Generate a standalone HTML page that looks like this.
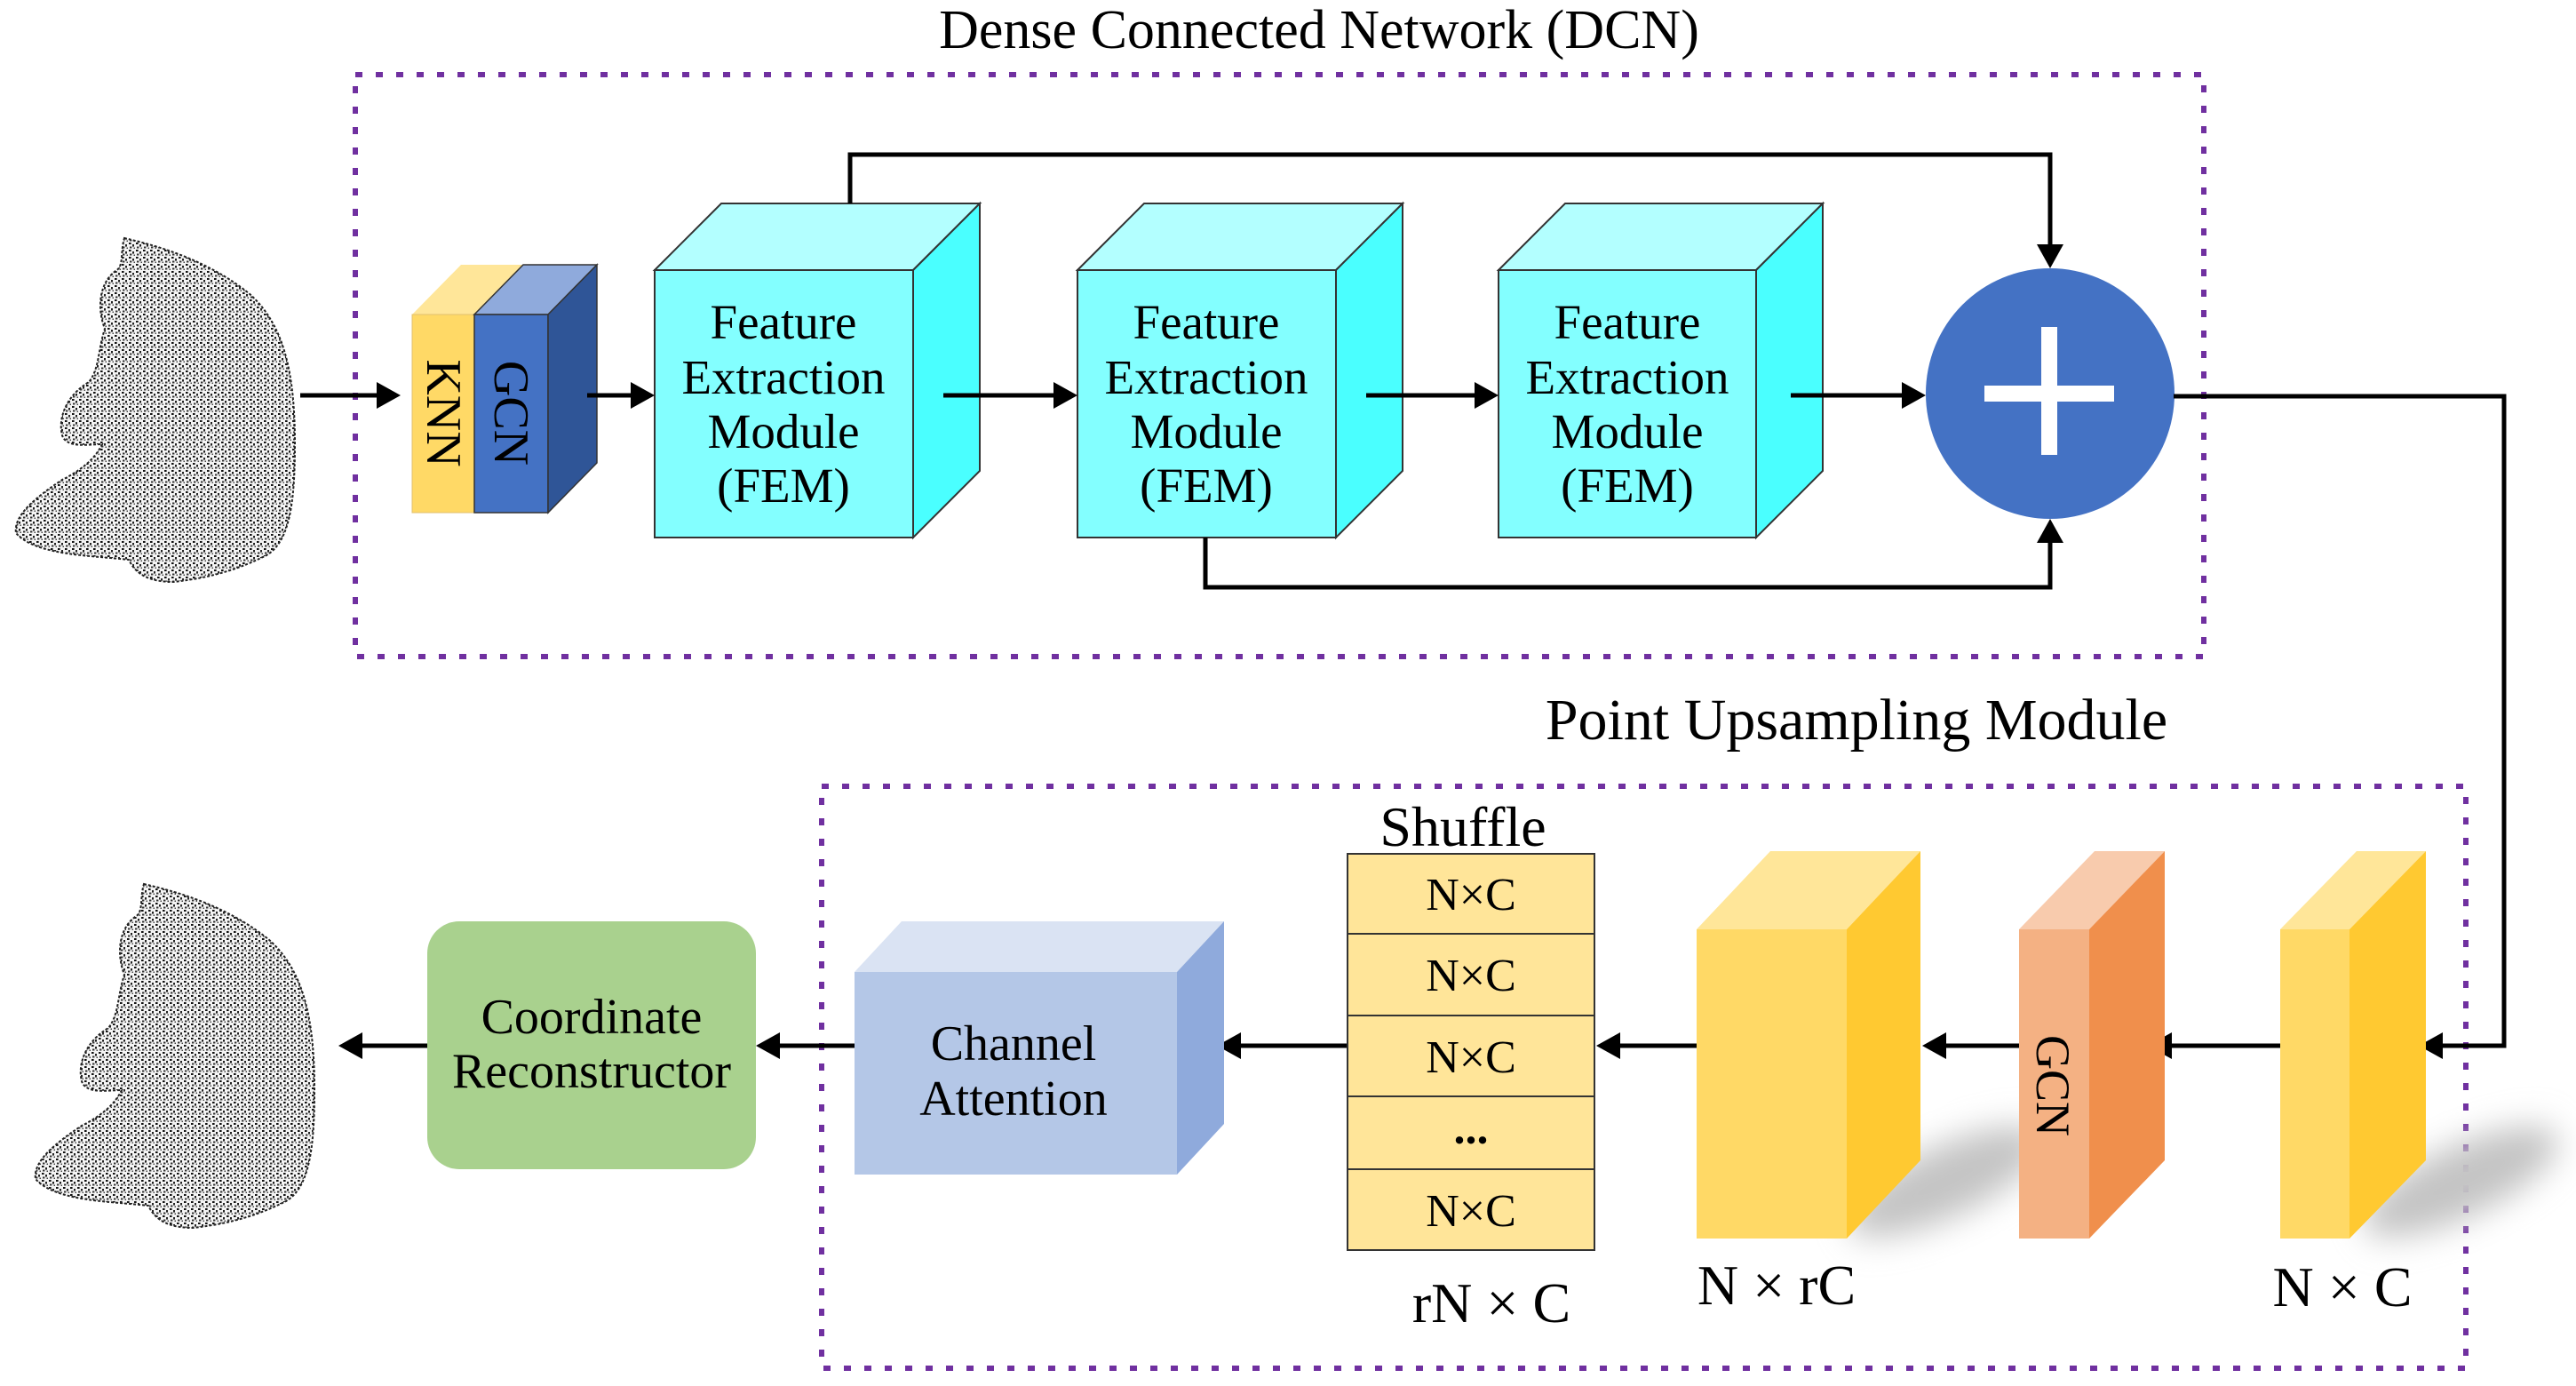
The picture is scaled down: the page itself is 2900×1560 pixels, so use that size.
<!DOCTYPE html>
<html><head><meta charset="utf-8"><style>
html,body{margin:0;padding:0;background:#fff;}
svg{display:block;}
text{font-family:"Liberation Serif",serif;fill:#000;}
</style></head><body>
<svg width="2900" height="1560" viewBox="0 0 2900 1560" xmlns="http://www.w3.org/2000/svg">
<defs>
<pattern id="dots" width="8" height="8" patternUnits="userSpaceOnUse">
<rect width="8" height="8" fill="#f4f4f4"/>
<rect x="1" y="1" width="2.6" height="2" fill="#111"/>
<rect x="5" y="3" width="2" height="2.6" fill="#222"/>
<rect x="2" y="5.5" width="2.4" height="2" fill="#333"/>
<rect x="6.5" y="6.5" width="1.5" height="1.5" fill="#444"/>
</pattern>
<filter id="blur" x="-50%" y="-50%" width="200%" height="200%"><feGaussianBlur stdDeviation="18"/></filter>
<path id="bear" d="M140,268 C170,275 230,290 280,330 C320,365 332,420 332,500 C332,570 325,610 300,625 C270,640 240,650 195,655 C160,655 150,640 145,630 C100,625 40,625 18,600 C15,580 40,560 70,540 C100,525 110,510 115,500 C100,500 75,505 70,490 C65,470 75,445 100,430 C112,415 110,395 118,370 C110,350 110,320 130,305 C140,300 135,285 140,268 Z"/>
</defs>

<text x="1485" y="54" font-size="62" text-anchor="middle">Dense Connected Network (DCN)</text>
<text x="2090" y="832" font-size="66" text-anchor="middle">Point Upsampling Module</text>

<rect x="400" y="84" width="2081" height="655" fill="none" stroke="#7030a0" stroke-width="6" stroke-dasharray="8 15"/>
<rect x="925" y="885" width="1851" height="655" fill="none" stroke="#7030a0" stroke-width="6" stroke-dasharray="8 15"/>

<use href="#bear" fill="url(#dots)" stroke="#222" stroke-width="2" stroke-dasharray="3 2"/>
<use href="#bear" transform="translate(22,727)" fill="url(#dots)" stroke="#222" stroke-width="2" stroke-dasharray="3 2"/>

<polygon points="464,354 534,354 589,298 519,298" fill="#ffe699"/>
<rect x="464" y="354" width="70" height="223" fill="#ffd966" stroke="#e0c070" stroke-width="1"/>
<polygon points="534,354 617,354 672,298 589,298" fill="#8faadc" stroke="#333" stroke-width="1.5"/>
<rect x="534" y="354" width="83" height="223" fill="#4472c4" stroke="#333" stroke-width="1.5"/>
<polygon points="617,354 672,298 672,521 617,577" fill="#2f5597" stroke="#333" stroke-width="1.5"/>
<text transform="translate(481,465) rotate(90)" font-size="56" text-anchor="middle">KNN</text>
<text transform="translate(557,465) rotate(90)" font-size="56" text-anchor="middle">GCN</text>

<g stroke="#333" stroke-width="2">
<polygon points="737,304 812,229 1103,229 1028,304" fill="#b3ffff"/>
<polygon points="1028,304 1103,229 1103,530 1028,605" fill="#4affff"/>
<rect x="737" y="304" width="291" height="301" fill="#83ffff"/>
<polygon points="1213,304 1288,229 1579,229 1504,304" fill="#b3ffff"/>
<polygon points="1504,304 1579,229 1579,530 1504,605" fill="#4affff"/>
<rect x="1213" y="304" width="291" height="301" fill="#83ffff"/>
<polygon points="1687,304 1762,229 2052,229 1977,304" fill="#b3ffff"/>
<polygon points="1977,304 2052,229 2052,530 1977,605" fill="#4affff"/>
<rect x="1687" y="304" width="290" height="301" fill="#83ffff"/>
</g>
<g font-size="55" text-anchor="middle">
<text x="882" y="381">Feature</text><text x="882" y="443">Extraction</text><text x="882" y="504">Module</text><text x="882" y="565">(FEM)</text>
<text x="1358" y="381">Feature</text><text x="1358" y="443">Extraction</text><text x="1358" y="504">Module</text><text x="1358" y="565">(FEM)</text>
<text x="1832" y="381">Feature</text><text x="1832" y="443">Extraction</text><text x="1832" y="504">Module</text><text x="1832" y="565">(FEM)</text>
</g>

<ellipse cx="2308" cy="443" rx="140" ry="141" fill="#4472c4"/>
<rect x="2234" y="434" width="146" height="18" fill="#fff"/>
<rect x="2298" y="368" width="18" height="144" fill="#fff"/>

<g stroke="#000" stroke-width="5" fill="none">
<line x1="338" y1="445" x2="430" y2="445"/>
<line x1="661" y1="445" x2="716" y2="445"/>
<line x1="1062" y1="445" x2="1192" y2="445"/>
<line x1="1538" y1="445" x2="1666" y2="445"/>
<line x1="2016" y1="445" x2="2147" y2="445"/>
<polyline points="957,229 957,174 2308,174 2308,282"/>
<polyline points="1357,605 1357,661 2308,661 2308,604"/>
<polyline points="2447,446 2819,446 2819,1177 2745,1177"/>
<line x1="2567" y1="1177" x2="2440" y2="1177"/>
<line x1="2273" y1="1177" x2="2186" y2="1177"/>
<line x1="1910" y1="1177" x2="1819" y2="1177"/>
<line x1="1517" y1="1177" x2="1392" y2="1177"/>
<line x1="962" y1="1177" x2="873" y2="1177"/>
<line x1="481" y1="1177" x2="403" y2="1177"/>
</g>
<g fill="#000">
<polygon points="451,445 424,430 424,460"/>
<polygon points="737,445 710,430 710,460"/>
<polygon points="1213,445 1186,430 1186,460"/>
<polygon points="1687,445 1660,430 1660,460"/>
<polygon points="2168,445 2141,430 2141,460"/>
<polygon points="2308,302 2293,275 2323,275"/>
<polygon points="2308,584 2293,611 2323,611"/>
<polygon points="2723,1177 2750,1162 2750,1192"/>
<polygon points="2418,1177 2445,1162 2445,1192"/>
<polygon points="2164,1177 2191,1162 2191,1192"/>
<polygon points="1797,1177 1824,1162 1824,1192"/>
<polygon points="1370,1177 1397,1162 1397,1192"/>
<polygon points="851,1177 878,1162 878,1192"/>
<polygon points="381,1177 408,1162 408,1192"/>
</g>

<ellipse cx="2190" cy="1330" rx="120" ry="40" fill="#c4c4c4" filter="url(#blur)" transform="rotate(-25 2190 1330)"/>
<ellipse cx="2770" cy="1330" rx="120" ry="40" fill="#c4c4c4" filter="url(#blur)" transform="rotate(-25 2770 1330)"/>

<polygon points="2567,1046 2645,1046 2731,958 2653,958" fill="#ffe699"/>
<polygon points="2645,1046 2731,958 2731,1306 2645,1394" fill="#ffc931"/>
<rect x="2567" y="1046" width="78" height="348" fill="#ffd966"/>

<polygon points="2273,1046 2352,1046 2437,958 2358,958" fill="#f8cbad"/>
<polygon points="2352,1046 2437,958 2437,1306 2352,1394" fill="#f08f4c"/>
<rect x="2273" y="1046" width="79" height="348" fill="#f4b183"/>
<text transform="translate(2293,1222) rotate(90)" font-size="54" text-anchor="middle">GCN</text>

<polygon points="1910,1046 2079,1046 2162,958 1993,958" fill="#ffe699"/>
<polygon points="2079,1046 2162,958 2162,1306 2079,1394" fill="#ffc931"/>
<rect x="1910" y="1046" width="169" height="348" fill="#ffd966"/>

<g fill="#ffe599" stroke="#333" stroke-width="2">
<rect x="1517" y="961" width="278" height="90"/>
<rect x="1517" y="1051" width="278" height="92"/>
<rect x="1517" y="1143" width="278" height="91"/>
<rect x="1517" y="1234" width="278" height="82"/>
<rect x="1517" y="1316" width="278" height="91"/>
</g>
<g font-size="52" text-anchor="middle">
<text x="1656" y="1024">N×C</text>
<text x="1656" y="1115">N×C</text>
<text x="1656" y="1207">N×C</text>
<text x="1656" y="1287" font-weight="bold">...</text>
<text x="1656" y="1380">N×C</text>
</g>
<text x="1647" y="952" font-size="64" text-anchor="middle">Shuffle</text>
<text x="1679" y="1488" font-size="64" text-anchor="middle">rN × C</text>
<text x="2000" y="1468" font-size="64" text-anchor="middle">N × rC</text>
<text x="2637" y="1470" font-size="64" text-anchor="middle">N × C</text>

<polygon points="962,1094 1015,1037 1378,1037 1325,1094" fill="#dae3f3"/>
<polygon points="1325,1094 1378,1037 1378,1265 1325,1322" fill="#8faadc"/>
<rect x="962" y="1094" width="363" height="228" fill="#b4c7e7"/>
<text x="1141" y="1193" font-size="56" text-anchor="middle">Channel</text>
<text x="1141" y="1255" font-size="56" text-anchor="middle">Attention</text>

<rect x="481" y="1037" width="370" height="279" rx="36" fill="#a9d18e"/>
<text x="666" y="1163" font-size="56" text-anchor="middle">Coordinate</text>
<text x="666" y="1224" font-size="56" text-anchor="middle">Reconstructor</text>
</svg>
</body></html>
